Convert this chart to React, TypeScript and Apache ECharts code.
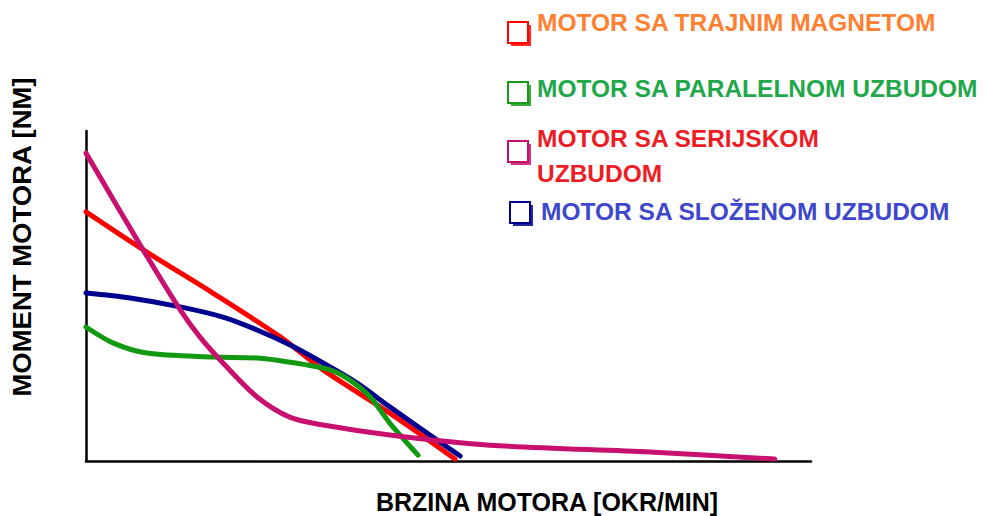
import React, { useEffect, useRef } from "react";
import * as echarts from "echarts";

// Data (x: speed 0..100, y: torque 0..100)
const permanentMagnet: [number, number][] = [
  [0, 75.5], [8.4, 63.3], [17.5, 50.9], [26.8, 37.6], [32.7, 27.6], [41.9, 14.5], [50.9, 0.6],
];
const compound: [number, number][] = [
  [0, 50.9], [6.1, 49.4], [13.0, 46.7], [18.9, 43.6], [23.6, 39.7], [28.1, 35.2], [32.7, 29.7], [37.4, 23.6], [41.9, 16.4], [51.6, 1.5],
];
const shunt: [number, number][] = [
  [0, 40.6], [3.7, 35.8], [8.4, 32.7], [17.5, 31.5], [23.6, 31.2], [30.5, 29.1], [33.7, 27.6], [36.4, 24.5], [39.2, 19.4], [41.9, 11.5], [45.8, 1.8],
];
const series_: [number, number][] = [
  [0, 93.3], [7.9, 63.9], [13.0, 45.8], [15.7, 37.6], [18.9, 29.7], [23.6, 19.4], [28.1, 13.3], [32.7, 10.9], [41.9, 7.9], [55.7, 4.8], [77.8, 2.7], [95.0, 0.6],
];

const legendLabels = [
  ["MOTOR SA TRAJNIM MAGNETOM"],
  ["MOTOR SA PARALELNOM UZBUDOM"],
  ["MOTOR SA SERIJSKOM", "UZBUDOM"],
  ["MOTOR SA SLOŽENOM UZBUDOM"],
];
const xAxisTitle = "BRZINA MOTORA [OKR/MIN]";
const yAxisTitle = "MOMENT MOTORA [NM]";

const FONT = "'Liberation Sans', Arial, sans-serif";

export default function App() {
  const ref = useRef<HTMLDivElement>(null);
  useEffect(() => {
    if (!ref.current) return;
    const chart = echarts.init(ref.current, undefined, { renderer: "svg" });

    const iconColors = ["#ff0000", "#1a9a1a", "#c4106c", "#000090"];
    const textColors = ["#ff8030", "#1fa84a", "#ee1c24", "#3f48cc"];
    const iconY = [22, 82, 141, 202];
    const iconX = [508, 508, 508, 510];
    const textX = [537, 537, 537, 541];
    const textY = [[22], [88], [138, 173], [211]];

    const graphics: any[] = [];
    legendLabels.forEach((lines, i) => {
      graphics.push({
        type: "rect",
        shape: { x: iconX[i] + 3, y: iconY[i] + 3, width: 20, height: 21 },
        style: { fill: iconColors[i], opacity: 0.85 },
      });
      graphics.push({
        type: "rect",
        shape: { x: iconX[i], y: iconY[i], width: 20, height: 21 },
        style: { fill: "#ffffff", stroke: iconColors[i], lineWidth: 2 },
      });
      lines.forEach((t, j) => {
        graphics.push({
          type: "text",
          x: textX[i],
          y: textY[i][j],
          style: {
            text: t,
            fill: textColors[i],
            font: `bold 24.5px ${FONT}`,
            textAlign: "left",
            textVerticalAlign: "middle",
          },
        });
      });
    });
    graphics.push({
      type: "text",
      x: 547,
      y: 502,
      style: {
        text: xAxisTitle,
        fill: "#000000",
        font: `bold 25px ${FONT}`,
        textAlign: "center",
        textVerticalAlign: "middle",
      },
    });
    graphics.push({
      type: "text",
      x: 22,
      y: 237,
      rotation: Math.PI / 2,
      scaleX: 1.1,
      style: {
        text: yAxisTitle,
        fill: "#000000",
        font: `bold 25px ${FONT}`,
        textAlign: "center",
        textVerticalAlign: "middle",
      },
    });

    const mk = (name: string, data: [number, number][], color: string) => ({
      name,
      type: "line",
      data,
      smooth: 0.3,
      showSymbol: false,
      symbol: "none",
      lineStyle: { color, width: 5, cap: "round" },
      z: 3,
    });

    chart.setOption({
      animation: false,
      backgroundColor: "#ffffff",
      grid: { left: 86, right: 175, top: 131, bottom: 55, containLabel: false },
      xAxis: {
        type: "value",
        min: 0,
        max: 100,
        axisLine: { show: true, onZero: false, lineStyle: { color: "#000", width: 2.5 } },
        axisTick: { show: false },
        axisLabel: { show: false },
        splitLine: { show: false },
      },
      yAxis: {
        type: "value",
        min: 0,
        max: 100,
        axisLine: { show: true, onZero: false, lineStyle: { color: "#000", width: 2.5 } },
        axisTick: { show: false },
        axisLabel: { show: false },
        splitLine: { show: false },
      },
      series: [
        mk("MOTOR SA TRAJNIM MAGNETOM", permanentMagnet, "#ff0000"),
        mk("MOTOR SA SLOŽENOM UZBUDOM", compound, "#00008f"),
        mk("MOTOR SA PARALELNOM UZBUDOM", shunt, "#119911"),
        mk("MOTOR SA SERIJSKOM UZBUDOM", series_, "#c8106e"),
      ],
      graphic: graphics,
    });
    return () => chart.dispose();
  }, []);
  return (
    <div
      ref={ref}
      style={{ position: "fixed", left: 0, top: 0, width: 986, height: 516 }}
    />
  );
}
